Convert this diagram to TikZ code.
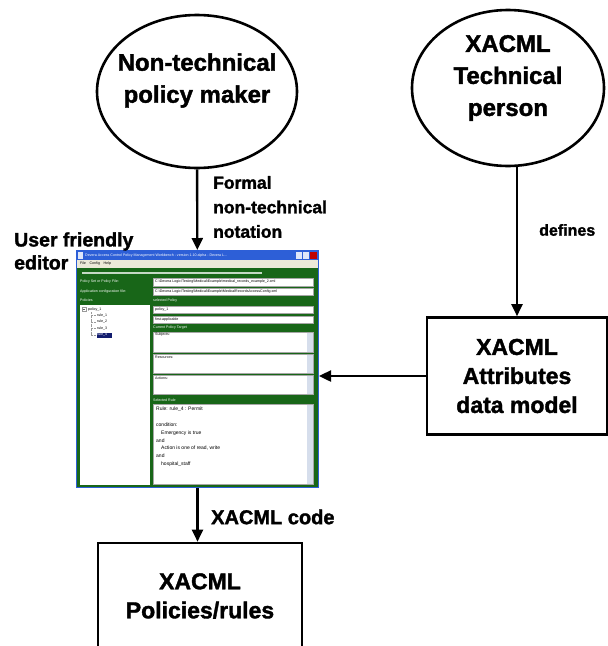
\documentclass[tikz,border=0pt]{standalone}
\usepackage{fontspec}
\setmainfont{Liberation Sans}[BoldFeatures={FakeBold=1.6}]
\usetikzlibrary{positioning, calc}
\usetikzlibrary{arrows.meta}
\usetikzlibrary{shapes}
\definecolor{wingreen}{RGB}{24,102,24}
\definecolor{xpblue}{RGB}{45,95,215}
\definecolor{menugray}{RGB}{236,233,216}
\definecolor{selblue}{RGB}{18,28,110}
\definecolor{scrollgray}{RGB}{214,222,236}

\begin{document}
\begin{tikzpicture}[x=1pt, y=-1pt, >={Triangle[length=12pt,width=11pt]}]
	\def\bigfont{\fontsize{24}{32}\selectfont\bfseries}
	\def\boxfont{\fontsize{23}{29}\selectfont\bfseries}
	\def\lblfont{\fontsize{17.5}{24.5}\selectfont\bfseries}
	\tikzstyle{actor}=[ellipse, draw=black, line width=2.6pt, inner sep=0pt]
	\tikzstyle{block}=[rectangle, draw=black, line width=2.6pt, align=center, font=\boxfont]
	\tikzstyle{flow}=[->, line width=2.4pt, draw=black]
	\tikzstyle{annot}=[align=left, anchor=west, inner sep=0pt, font=\lblfont]
	\tikzstyle{wintext}=[anchor=west, inner sep=0pt, font=\fontsize{3.6}{4}\selectfont]
	\tikzstyle{field}=[fill=white, draw=black!35, line width=0.3pt]
	\tikzstyle{window}=[rectangle, fill=wingreen, draw=xpblue, line width=1pt, minimum width=242pt, minimum height=237pt]
	\useasboundingbox (0,0) rectangle (608,646);

	% actors
	\node[actor, minimum width=200pt, minimum height=153pt,
		label={[font=\bigfont, align=center, yshift=11pt]center:Non-technical\\policy maker}] (maker) at (197,91.5) {};
	\node[actor, minimum width=192pt, minimum height=156pt,
		label={[font=\bigfont, align=center, yshift=10pt]center:XACML\\Technical\\person}] (techperson) at (508,88) {};

	% editor window (76..319, 250..488)
	\node[window] (editor) at (197.5,369) {};
	\fill[xpblue] (77,251) rectangle (318,260);
	\fill[white!85!xpblue] (78,252) rectangle (83,259);
	\node[wintext, text=white] (win-title) at (85,255.5) {Devera Access Control Policy Management Workbench - version 1.10 alpha - Devera L...};
	\fill[white!85!xpblue] (296,252) rectangle (302,259);
	\fill[white!85!xpblue] (303,252) rectangle (309,259);
	\fill[red!75!black] (310,252) rectangle (317,259);
	\fill[menugray] (77,260) rectangle (318,268);
	\node[wintext] (win-menu) at (80,264) {File\quad Config\quad Help};
	\fill[white!75!wingreen] (82,272) rectangle (262,274);
	% file rows
	\node[wintext, text=white] (lbl-policyfile) at (80,281.5) {Policy Set or Policy File:};
	\draw[field] (153,278) rectangle (313,286);
	\node[wintext] (txt-policyfile) at (155,282) {C:\textbackslash Devera Logic\textbackslash Testing\textbackslash Medical\textbackslash Example\textbackslash medical\_records\_example\_2.xml};
	\node[wintext, text=white] (lbl-config) at (80,291.5) {Application configuration file:};
	\draw[field] (153,288) rectangle (313,295);
	\node[wintext] (txt-config) at (155,291.5) {C:\textbackslash Devera Logic\textbackslash Testing\textbackslash Medical\textbackslash Example\textbackslash MedicalRecordsAccessConfig.xml};
	\node[wintext, text=white] (lbl-policies) at (80,300.5) {Policies};
	\node[wintext, text=white] (lbl-selpolicy) at (153,300.5) {selected Policy};
	% policy tree
	\fill[white] (80,305) rectangle (150,485);
	\draw[black!40, line width=0.3pt] (82,307.5) rectangle (86,311.5);
	\draw[black!60, line width=0.3pt] (83,309.5) -- (85,309.5);
	\draw[black!40, densely dotted, line width=0.3pt] (91,312) -- (91,335) (91,315.5) -- (96,315.5) (91,322) -- (96,322) (91,328.5) -- (96,328.5) (91,335) -- (96,335);
	\node[wintext] (tree-policy) at (88,309.5) {policy\_1};
	\node[wintext] (tree-rule1) at (97,315.5) {rule\_1};
	\node[wintext] (tree-rule2) at (97,322) {rule\_2};
	\node[wintext] (tree-rule3) at (97,328.5) {rule\_3};
	\fill[selblue] (96.5,332.5) rectangle (112,337.5);
	\node[wintext, text=white] (tree-rule4) at (97,335) {rule\_4};
	% selected policy
	\draw[field] (153,306) rectangle (313,313);
	\node[wintext] (txt-policy) at (155,309.5) {policy\_1};
	\draw[field] (153,316) rectangle (313,323);
	\node[wintext] (txt-combining) at (155,319.5) {first-applicable};
	\node[wintext, text=white] (lbl-target) at (153,327.5) {Current Policy Target};
	\foreach \top/\bot/\name in {332/352/Subjects, 354/373/Resources, 375/394/Actions} {
		\draw[field] (153,\top) rectangle (313,\bot);
		\fill[scrollgray] (307,\top+0.5) rectangle (312.5,\bot-0.5);
		\node[wintext] (txt-\name) at (155,\top+3) {\name:};
	}
	\node[wintext, text=white] (lbl-selrule) at (153,400) {Selected Rule};
	\draw[field] (153,404) rectangle (313,484);
	\fill[scrollgray] (307,404.5) rectangle (312.5,483.5);
	\node[wintext, anchor=north west, align=left, font=\fontsize{5}{7.8}\selectfont] (txt-rule) at (156,407) {Rule: rule\_4 : Permit\\[7.8pt]condition:\\\quad Emergency is true\\and\\\quad Action is one of read, write\\and\\\quad hospital\_staff};

	% data model and output
	\node[block, minimum width=180pt, minimum height=117pt] (attrbox) at (517,376) {XACML\\Attributes\\data model};
	\node[block, minimum width=204pt, minimum height=106pt] (policies) at (200,596) {XACML\\Policies/rules};

	% connectors
	\draw[flow] (maker) -- (editor);
	\draw[flow] (techperson.south -| attrbox.north) -- (attrbox.north);
	\draw[flow] (attrbox.west) -- (attrbox.west -| editor.east);
	\draw[flow] (editor.south) -- (editor.south |- policies.north);

	% labels
	\node[annot] (formal-label) at (213,207) {Formal\\non-technical\\notation};
	\node[annot, font=\fontsize{19.5}{23}\selectfont\bfseries] (editor-label) at (14,251) {User friendly\\editor};
	\node[annot, font=\fontsize{16}{20}\selectfont\bfseries] (defines-label) at (539,230) {defines};
	\node[annot, font=\fontsize{20}{24}\selectfont\bfseries] (code-label) at (211,517) {XACML code};
\end{tikzpicture}
\end{document}
